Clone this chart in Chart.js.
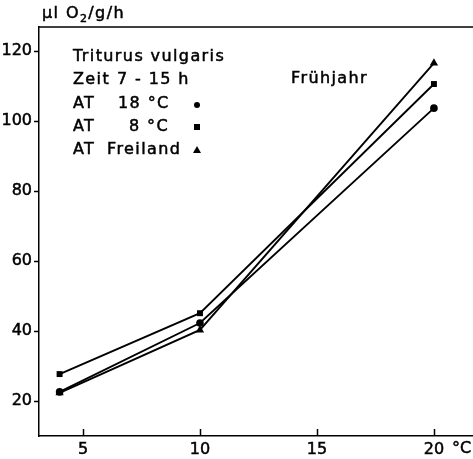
<!DOCTYPE html>
<html>
<head>
<meta charset="utf-8">
<script src="https://cdn.jsdelivr.net/npm/chart.js@4"></script>
<style>
  html, body { margin:0; padding:0; background:#fff; }
  #wrap { width:473px; height:459px; }
</style>
</head>
<body>
<div id="wrap"><canvas id="c" width="473" height="459"></canvas></div>
<script>
// temperatures (°C) and O2 consumption (µl O2/g/h)
const temps = [4, 10, 20];
const at18 = [22.6, 42.3, 103.7];
const at8 = [27.7, 45.1, 110.6];
const atFreiland = [22.3, 40.3, 116.6];
const xTicks = [5, 10, 15, 20];
const yTicks = [20, 40, 60, 80, 100, 120];

const FONT = '"DejaVu Sans", sans-serif';
const ink = '#000';

function pts(ys){ return temps.map((t, i) => ({ x: t, y: ys[i] })); }

function series(label, ys, style, r){
  return {
    label, data: pts(ys),
    borderColor: ink, backgroundColor: ink, borderWidth: 1.9,
    pointStyle: style, pointRadius: r, pointHoverRadius: r,
    pointBorderWidth: 0, tension: 0
  };
}

// slightly heavier text, like the original lettering
function txt(ctx, s, x, y){
  ctx.fillText(s, x, y);
  ctx.strokeText(s, x, y);
  return ctx.measureText(s).width;
}

// texts, frame and ticks drawn on top of the chart
const figureText = {
  id: 'figureText',
  afterDraw(chart){
    const ctx = chart.ctx, a = chart.chartArea;
    const xs = chart.scales.x, ys = chart.scales.y;
    ctx.save();
    ctx.strokeStyle = ink; ctx.fillStyle = ink;
    ctx.lineWidth = 1.5;
    // top frame line
    ctx.beginPath(); ctx.moveTo(a.left, a.top); ctx.lineTo(473, a.top); ctx.stroke();
    // x ticks (pointing inwards)
    xTicks.forEach(v => {
      const px = Math.round(xs.getPixelForValue(v)) + 0.5;
      ctx.beginPath(); ctx.moveTo(px, a.bottom); ctx.lineTo(px, a.bottom - 7); ctx.stroke();
    });
    // y ticks (pointing outwards)
    yTicks.forEach(v => {
      const py = Math.round(ys.getPixelForValue(v)) + 0.5;
      ctx.beginPath(); ctx.moveTo(a.left, py); ctx.lineTo(a.left - 5, py); ctx.stroke();
    });

    ctx.lineWidth = 0.5;
    ctx.textBaseline = 'middle';
    ctx.textAlign = 'left';
    ctx.letterSpacing = '1.4px';
    ctx.font = '16px ' + FONT;
    // unit
    let x = 42;
    x += txt(ctx, 'µl O', x, 14);
    ctx.font = '11px ' + FONT;
    x += txt(ctx, '2', x, 19);
    ctx.font = '16px ' + FONT;
    txt(ctx, '/g/h', x, 14);
    ctx.letterSpacing = '0px';
    txt(ctx, '°C', 452, 449);
    ctx.letterSpacing = '1.4px';

    txt(ctx, 'Triturus vulgaris', 73, 57);
    txt(ctx, 'Zeit', 73, 80);
    txt(ctx, '7 - 15 h', 117, 80);
    txt(ctx, 'AT', 73, 104);
    txt(ctx, '18 °C', 118, 104);
    txt(ctx, 'AT', 73, 127);
    txt(ctx, '8 °C', 129, 127);
    txt(ctx, 'AT', 73, 150);
    txt(ctx, 'Freiland', 107, 150);
    txt(ctx, 'Frühjahr', 291, 79);

    // legend symbols
    ctx.beginPath(); ctx.arc(197, 105, 3, 0, Math.PI * 2); ctx.fill();
    ctx.fillRect(194, 124, 6, 6);
    ctx.beginPath(); ctx.moveTo(197, 146); ctx.lineTo(201, 153); ctx.lineTo(193, 153); ctx.closePath(); ctx.fill();
    ctx.restore();
  }
};

new Chart(document.getElementById('c').getContext('2d'), {
  type: 'line',
  data: {
    datasets: [
      series('AT 18 °C', at18, 'circle', 3.8),
      series('AT 8 °C', at8, 'rect', 4.2),
      series('AT Freiland', atFreiland, 'triangle', 4.8)
    ]
  },
  options: {
    responsive: false,
    animation: false,
    devicePixelRatio: 1,
    layout: { autoPadding: false, padding: { top: 27, right: 0, left: 0, bottom: 0 } },
    plugins: { legend: { display: false }, tooltip: { enabled: false }, title: { display: false } },
    scales: {
      x: {
        type: 'linear', min: 3.12, max: 21.67,
        afterBuildTicks(s){ s.ticks = xTicks.map(v => ({ value: v })); },
        afterFit(s){ s.height = 23; },
        grid: { display: false, drawTicks: false },
        border: { display: true, color: ink, width: 1.5 },
        ticks: { color: ink, font: { family: FONT, size: 16 }, padding: 4, maxRotation: 0, autoSkip: false, textStrokeColor: ink, textStrokeWidth: 0.5 }
      },
      y: {
        type: 'linear', min: 10, max: 126.9,
        afterBuildTicks(s){ s.ticks = yTicks.map(v => ({ value: v })); },
        afterFit(s){ s.width = 39; },
        grid: { display: false, drawTicks: false },
        border: { display: true, color: ink, width: 1.5 },
        ticks: { color: ink, font: { family: FONT, size: 16 }, padding: 7, textStrokeColor: ink, textStrokeWidth: 0.5 }
      }
    }
  },
  plugins: [figureText]
});
</script>
</body>
</html>
